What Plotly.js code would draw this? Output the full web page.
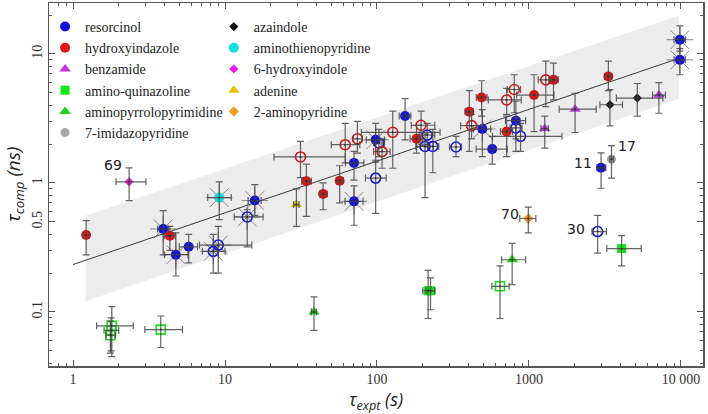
<!DOCTYPE html>
<html><head><meta charset="utf-8">
<script src="https://cdn.plot.ly/plotly-3.0.1.min.js"></script>
<style>html,body{margin:0;padding:0;background:#fff}</style>
</head><body><div id="chart" style="width:708px;height:414px"></div>
<script>
// ---------- data ----------
// resorcinol
const resX   = [3.92, 4.75, 5.77, 8.37, 9.03, 14.0, 15.7, 70.6, 70.6, 98, 103, 98, 153, 214, 207, 233, 331, 493, 573, 820, 820, 880, 9840, 9840, 2980, 2830];
const resY   = [0.44, 0.278, 0.32, 0.295, 0.33, 0.545, 0.73, 0.72, 1.43, 2.16, 2.04, 1.09, 3.3, 2.35, 1.92, 1.92, 1.9, 2.62, 1.83, 3.04, 2.67, 2.3, 12.9, 9.0, 1.31, 0.42];
const resXlo = [3.6, 4.0, 5.0, 7.1, 6.8, 11.5, 14.2, 61.6, 62, 85, 95, 84, 140, 190, 180, 215, 300, 430, 449, 700, 750, 575, 9000, 9000, 2800, 2600];
const resXhi = [4.25, 5.7, 6.6, 10.0, 15.0, 17.8, 17.3, 81, 82, 112, 112, 115, 167, 240, 235, 255, 360, 560, 720, 950, 900, 1650, 10700, 10700, 3200, 3230];
const resYlo = [0.277, 0.19, 0.24, 0.20, 0.20, 0.32, 0.56, 0.47, 1.05, 1.45, 1.6, 0.58, 2.16, 1.9, 0.77, 1.2, 1.6, 1.6, 1.4, 1.76, 2.2, 1.76, 10.5, 6.9, 0.91, 0.286];
const resYhi = [0.61, 0.41, 0.40, 0.40, 0.46, 0.62, 0.97, 0.95, 1.76, 2.9, 2.6, 1.5, 4.5, 2.9, 2.4, 2.6, 2.3, 3.7, 2.3, 4.3, 3.2, 2.9, 16.5, 11, 1.71, 0.56];
const resOpen = [0,0,0,1,1,1,0,0,0,0,1,1,0,1,1,1,1,0,0,0,1,1,0,0,0,1];
const resStar = [1,1,0,1,1,1,1,1,0,1,0,0,0,0,0,0,0,1,0,0,0,0,1,1,0,0];
const resLabels = ['','','','','','','','','','','','','','','','','','','','','','','','','11','30'];

// hydroxyindazole
const hydX   = [1.22, 4.34, 31.4, 34.3, 44.2, 56.8, 61.8, 74.3, 108, 127, 182, 195, 405, 419, 488, 713, 800, 713, 1080, 1290, 1450, 3330];
const hydY   = [0.395, 0.39, 1.59, 1.03, 0.82, 1.04, 1.98, 2.2, 1.75, 2.47, 2.2, 2.8, 3.57, 2.78, 4.6, 4.4, 5.3, 2.5, 4.8, 6.3, 6.3, 6.7];
const hydXlo = [1.17, 4.0, 21, 32, 42, 54, 50, 70, 95, 79, 165, 168, 380, 355, 450, 540, 720, 650, 830, 1150, 1350, 3150];
const hydXhi = [1.28, 4.7, 62, 37, 47, 60, 77, 80, 122, 260, 200, 240, 430, 500, 530, 890, 880, 780, 1460, 1420, 1560, 3500];
const hydYlo = [0.277, 0.30, 1.1, 0.55, 0.62, 0.70, 1.43, 1.7, 1.3, 1.3, 1.7, 2.0, 1.76, 2.2, 3.3, 3.4, 3.5, 1.6, 2.5, 3.9, 4.4, 5.2];
const hydYhi = [0.51, 0.46, 2.1, 1.4, 1.0, 1.36, 2.9, 3.0, 2.2, 3.6, 2.8, 3.6, 5.2, 3.4, 6.2, 5.4, 6.9, 3.3, 6.9, 8.8, 8.5, 8.8];
const hydOpen = [0,0,1,0,0,0,1,1,1,1,0,1,0,1,0,1,1,0,0,1,0,0];

// benzamide
const benX = [1270, 2010, 7160];
const benY = [2.64, 3.73, 4.8];
const benXlo = [1200, 1580, 6500];
const benXhi = [1340, 2770, 7900];
const benYlo = [1.86, 2.46, 3.47];
const benYhi = [3.3, 4.96, 6.0];

// amino-quinazoline
const aqzX   = [217, 225, 4070, 1.80, 1.78, 1.76, 3.78, 645];
const aqzY   = [0.146, 0.146, 0.31, 0.078, 0.072, 0.066, 0.073, 0.158];
const aqzXlo = [200, 210, 3250, 1.43, 1.6, 1.65, 2.97, 570];
const aqzXhi = [240, 240, 5480, 2.49, 2.0, 1.9, 5.25, 740];
const aqzYlo = [0.089, 0.104, 0.228, 0.045, 0.05, 0.048, 0.053, 0.089];
const aqzYhi = [0.21, 0.184, 0.39, 0.11, 0.09, 0.085, 0.093, 0.228];
const aqzOpen = [0,0,0,1,1,1,1,1];

// aminopyrrolopyrimidine
const appX = [38.5, 775];
const appY = [0.10, 0.254];
const appXlo = [37, 660];
const appXhi = [40, 950];
const appYlo = [0.072, 0.163];
const appYhi = [0.131, 0.34];

// 7-imidazopyridine
const imzX = [3490]; const imzY = [1.53];
const imzXlo = [3400]; const imzXhi = [3600];
const imzYlo = [1.09]; const imzYhi = [1.95];
const imzLabels = ['17'];

// azaindole
const azaX = [3410, 5160]; const azaY = [4.04, 4.55];
const azaXlo = [2930, 3760]; const azaXhi = [4120, 7600];
const azaYlo = [2.77, 3.3]; const azaYhi = [5.3, 5.9];

// aminothienopyridine
const atpX = [9.17]; const atpY = [0.77];
const atpXlo = [7.7]; const atpXhi = [11.0];
const atpYlo = [0.52]; const atpYhi = [1.02];
const atpStar = [1];

// 6-hydroxyindole
const hinX = [2.34]; const hinY = [1.02];
const hinXlo = [1.92]; const hinXhi = [3.02];
const hinYlo = [0.73]; const hinYhi = [1.31];
const hinLabels = ['69'];

// adenine
const adeX = [29.5]; const adeY = [0.68];
const adeXlo = [28.3]; const adeXhi = [30.7];
const adeYlo = [0.46]; const adeYhi = [0.90];

// 2-aminopyridine
const ampX = [990]; const ampY = [0.53];
const ampXlo = [870]; const ampXhi = [1110];
const ampYlo = [0.41]; const ampYhi = [0.65];
const ampLabels = ['70'];

// fit line and confidence band
const fitX = [1, 9840];
const fitY = [0.233, 9.3];
const bandX = [1.21, 9700];
const bandLow = [0.121, 4.5];
const bandHigh = [0.558, 19.8];

// axis ticks
const xTickVals = [1, 10, 100, 1000, 10000];
const xTickText = ['1', '10', '100', '1000', '10 000'];
const yTickVals = [0.1, 0.5, 1, 10];
const yTickText = ['0.1', '0.5', '1', '10'];

// ---------- build ----------
const SERIF = 'Liberation Serif';
const cats = [
  {name:'resorcinol', x:resX, y:resY, xlo:resXlo, xhi:resXhi, ylo:resYlo, yhi:resYhi, open:resOpen, star:resStar, labels:resLabels, color:'#1212e0', symbol:'circle', size:10, legend:'legend'},
  {name:'hydroxyindazole', x:hydX, y:hydY, xlo:hydXlo, xhi:hydXhi, ylo:hydYlo, yhi:hydYhi, open:hydOpen, color:'#e01212', symbol:'circle', size:10, legend:'legend'},
  {name:'benzamide', x:benX, y:benY, xlo:benXlo, xhi:benXhi, ylo:benYlo, yhi:benYhi, color:'#c234e6', symbol:'triangle-up', size:10, legend:'legend'},
  {name:'amino-quinazoline', x:aqzX, y:aqzY, xlo:aqzXlo, xhi:aqzXhi, ylo:aqzYlo, yhi:aqzYhi, open:aqzOpen, color:'#14e614', symbol:'square', size:9, legend:'legend'},
  {name:'aminopyrrolopyrimidine', x:appX, y:appY, xlo:appXlo, xhi:appXhi, ylo:appYlo, yhi:appYhi, color:'#12d612', symbol:'triangle-up', size:10, legend:'legend'},
  {name:'7-imidazopyridine', x:imzX, y:imzY, xlo:imzXlo, xhi:imzXhi, ylo:imzYlo, yhi:imzYhi, labels:imzLabels, color:'#a8a8a8', symbol:'circle', size:9, legend:'legend'},
  {name:'azaindole', x:azaX, y:azaY, xlo:azaXlo, xhi:azaXhi, ylo:azaYlo, yhi:azaYhi, color:'#111111', symbol:'diamond', size:7, legend:'legend2'},
  {name:'aminothienopyridine', x:atpX, y:atpY, xlo:atpXlo, xhi:atpXhi, ylo:atpYlo, yhi:atpYhi, star:atpStar, color:'#12dede', symbol:'circle', size:10, legend:'legend2'},
  {name:'6-hydroxyindole', x:hinX, y:hinY, xlo:hinXlo, xhi:hinXhi, ylo:hinYlo, yhi:hinYhi, labels:hinLabels, color:'#f014f0', symbol:'diamond', size:7, legend:'legend2'},
  {name:'adenine', x:adeX, y:adeY, xlo:adeXlo, xhi:adeXhi, ylo:adeYlo, yhi:adeYhi, color:'#e8c000', symbol:'triangle-up', size:10, legend:'legend2'},
  {name:'2-aminopyridine', x:ampX, y:ampY, xlo:ampXlo, xhi:ampXhi, ylo:ampYlo, yhi:ampYhi, labels:ampLabels, color:'#f0a020', symbol:'diamond', size:8, legend:'legend2'}
];

const pick = (arr, idx) => idx.map(i => arr[i]);
const traces = [];

// band
traces.push({
  x: bandX.concat(bandX.slice().reverse()),
  y: bandLow.concat(bandHigh.slice().reverse()),
  mode:'lines', fill:'toself', fillcolor:'#ececec', line:{width:0, color:'rgba(0,0,0,0)'},
  showlegend:false, hoverinfo:'skip'
});
// fit line
traces.push({x:fitX, y:fitY, mode:'lines', line:{color:'#3a3a3a', width:1}, showlegend:false, hoverinfo:'skip'});

// star overlays
cats.forEach(c => {
  const st = c.star || c.x.map(() => 0);
  const idx = c.x.map((v,i)=>i).filter(i => st[i]);
  if (!idx.length) return;
  traces.push({x:pick(c.x,idx), y:pick(c.y,idx), mode:'markers', showlegend:false, hoverinfo:'skip',
    marker:{symbol:'asterisk-open', size:22, color:'rgba(90,90,90,0.7)', line:{color:'rgba(90,90,90,0.7)', width:1}}});
});

// markers (filled, legend) and open
cats.forEach(c => {
  const op = c.open || c.x.map(() => 0);
  const fIdx = c.x.map((v,i)=>i).filter(i => !op[i]);
  const oIdx = c.x.map((v,i)=>i).filter(i => op[i]);
  traces.push({x:pick(c.x,fIdx), y:pick(c.y,fIdx), name:c.name, legend:c.legend, legendgroup:c.name,
    mode:'markers', marker:{symbol:c.symbol, size:c.size, color:c.color, line:{width:0}}});
  if (oIdx.length) {
    traces.push({x:pick(c.x,oIdx), y:pick(c.y,oIdx), name:c.name, legend:c.legend, legendgroup:c.name, showlegend:false,
      mode:'markers', marker:{symbol:c.symbol + '-open', size:c.size, color:c.color, line:{width:1.6, color:c.color}}});
  }
});

// error bars on top
cats.forEach(c => {
  traces.push({x:c.x, y:c.y, mode:'markers', showlegend:false, hoverinfo:'skip',
    marker:{size:2, color:'rgba(40,40,40,0.9)'},
    error_x:{type:'data', symmetric:false, array:c.x.map((v,i)=>c.xhi[i]-v), arrayminus:c.x.map((v,i)=>v-c.xlo[i]), color:'rgba(70,70,70,0.85)', thickness:1.2, width:3.5},
    error_y:{type:'data', symmetric:false, array:c.y.map((v,i)=>c.yhi[i]-v), arrayminus:c.y.map((v,i)=>v-c.ylo[i]), color:'rgba(70,70,70,0.85)', thickness:1.2, width:3.5}
  });
});

// point labels
const labelShift = {'69':[-16,17], '11':[-18,5], '17':[16,13], '70':[-18,5], '30':[-22,3]};
const annotations = [];
cats.forEach(c => {
  if (!c.labels) return;
  c.labels.forEach((t,i) => {
    if (!t) return;
    const s = labelShift[t] || [0,0];
    annotations.push({x:Math.log10(c.x[i]), y:Math.log10(c.y[i]), xref:'x', yref:'y', text:t, showarrow:false,
      xshift:s[0], yshift:s[1], font:{family:'DejaVu Sans', size:14, color:'#222'}});
  });
});

// minor ticks
const xMinor = [], yMinor = [];
for (let d = -1; d <= 4; d++) for (let m = 2; m <= 9; m++) xMinor.push(m * Math.pow(10, d));
for (let d = -2; d <= 1; d++) for (let m = 2; m <= 9; m++) { if (!(d === -1 && m === 5)) yMinor.push(m * Math.pow(10, d)); }

const axisCommon = {
  type:'log', showline:true, mirror:'allticks', linecolor:'#555', linewidth:1.5,
  ticks:'inside', ticklen:6, tickwidth:1, tickcolor:'#555', tickmode:'array',
  showgrid:false, zeroline:false,
  tickfont:{family:SERIF, size:14, color:'#333'}
};

const layout = {
  width:708, height:414,
  margin:{l:49, r:5, t:3, b:48},
  paper_bgcolor:'#ffffff', plot_bgcolor:'#ffffff',
  xaxis:Object.assign({}, axisCommon, {
    range:[-0.158, 4.145], tickvals:xTickVals, ticktext:xTickText,
    minor:{tickmode:'array', tickvals:xMinor, ticks:'inside', ticklen:3, tickcolor:'#555', showgrid:false},
    title:{text:'<i>τ<sub>expt</sub> (s)</i>', font:{family:'Open Sans', size:18, color:'#222'}, standoff:2}
  }),
  yaxis:Object.assign({}, axisCommon, {
    range:[-1.419, 1.395], tickvals:yTickVals, ticktext:yTickText, tickangle:-90,
    minor:{tickmode:'array', tickvals:yMinor, ticks:'inside', ticklen:3, tickcolor:'#555', showgrid:false},
    title:{text:'<i>τ<sub>comp</sub> (ns)</i>', font:{family:'Open Sans', size:19, color:'#222'}, standoff:6}
  }),
  legend:{x:-0.006, y:0.978, xanchor:'left', yanchor:'top', bgcolor:'rgba(0,0,0,0)', borderwidth:0,
    font:{family:SERIF, size:14, color:'#222'}, traceorder:'normal'},
  legend2:{x:0.252, y:0.978, xanchor:'left', yanchor:'top', bgcolor:'rgba(0,0,0,0)', borderwidth:0,
    font:{family:SERIF, size:14, color:'#222'}, traceorder:'normal'},
  annotations:annotations,
  showlegend:true
};

Plotly.newPlot('chart', traces, layout, {displayModeBar:false, staticPlot:true});
</script>
</body></html>
